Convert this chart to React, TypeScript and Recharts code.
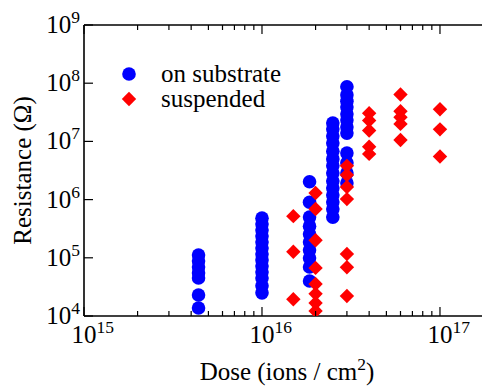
import React from "react";
import { ScatterChart, Scatter, XAxis, YAxis, ReferenceLine, Legend } from "recharts";

// ---- data (dose in ions/cm^2, resistance in ohm) ----
const substrateDoses = [4.4e15, 1e16, 1.85e16, 2.5e16, 3e16];
const substrateRes1 = [1.12e5, 8.8e4, 6.95e4, 5.5e4, 4.5e4, 2.3e4, 1.37e4];
const substrateRes2 = [4.8e5, 3.8e5, 3.0e5, 2.37e5, 1.87e5, 1.47e5, 1.16e5, 9.2e4, 7.2e4, 5.7e4, 4.5e4, 3.3e4, 2.5e4];
const substrateRes3 = [2.03e6, 9e5, 5.0e5, 3.5e5, 2.57e5, 1.87e5, 1.36e5, 9.9e4, 6.95e4, 4e4];
const substrateRes4 = [2.07e7, 1.63e7, 1.24e7, 9.4e6, 6.8e6, 5.0e6, 3.8e6, 2.86e6, 2.09e6, 1.58e6, 1.2e6, 9.1e5, 6.9e5, 5.0e5];
const substrateRes5 = [8.7e7, 6.3e7, 4.9e7, 3.9e7, 2.96e7, 2.33e7, 1.77e7, 1.39e7, 6.3e6, 4.3e6, 2.86e6, 1.93e6];
const substrateRes = [substrateRes1, substrateRes2, substrateRes3, substrateRes4, substrateRes5];

const suspendedDoses = [1.5e16, 2e16, 3e16, 4e16, 6e16, 1e17];
const suspendedRes1 = [5.2e5, 1.27e5, 1.94e4];
const suspendedRes2 = [1.3e6, 6.9e5, 2.0e5, 6.7e4, 3.55e4, 2.4e4, 1.67e4, 1.22e4];
const suspendedRes3 = [3.8e6, 2.65e6, 1.65e6, 1.02e6, 1.16e5, 6.9e4, 2.2e4];
const suspendedRes4 = [3.04e7, 2.29e7, 1.54e7, 8.1e6, 6.1e6];
const suspendedRes5 = [6.4e7, 3.3e7, 2.6e7, 2.0e7, 1.06e7];
const suspendedRes6 = [3.56e7, 1.61e7, 5.5e6];
const suspendedRes = [suspendedRes1, suspendedRes2, suspendedRes3, suspendedRes4, suspendedRes5, suspendedRes6];

const xMajorTicks = [1e15, 1e16, 1e17];
const xMinorMultipliers = [2, 3, 4, 5, 6, 7, 8, 9];
const yTicks = [1e4, 1e5, 1e6, 1e7, 1e8, 1e9];
const xDomain = [1e15, 1.91e17];
const yDomain = [1e4, 1e9];

const seriesNames = ["on substrate", "suspended"];
const xTitle = "Dose (ions / cm";
const yTitle = "Resistance (\u03A9)";

// ---- build tables ----
const buildPoints = (doses: number[], res: number[][]) =>
  doses.flatMap((d, i) => res[i].map((r) => ({ x: d, y: r })));
const substrateData = buildPoints(substrateDoses, substrateRes);
const suspendedData = buildPoints(suspendedDoses, suspendedRes);

const xTicks: number[] = [];
for (const m of xMajorTicks) {
  xTicks.push(m);
  for (const k of xMinorMultipliers) {
    const v = m * k;
    if (v <= xDomain[1]) xTicks.push(v);
  }
}

// ---- layout ----
const W = 482;
const H = 379;
const PL = 76;
const PT = 17;
const PB = 308;
const PR = W;
const FONT = '"Liberation Serif", "Times New Roman", Times, serif';
const FS = 25;
const SUP = 17.5;
const BLUE = "#0000ff";
const RED = "#ff0000";
const textStyle = { fontFamily: FONT, fontSize: FS };

const isMajor = (v: number) => {
  const e = Math.round(Math.log10(v));
  return Math.abs(v - Math.pow(10, e)) / v < 1e-6;
};

const XTick = (props: any) => {
  const { x, payload } = props;
  const v = payload.value;
  const major = isMajor(v);
  const len = major ? 9 : 5;
  const e = Math.round(Math.log10(v));
  return (
    <g>
      <line x1={x} x2={x} y1={PB} y2={PB - len} stroke="#000" strokeWidth={1.2} />
      <line x1={x} x2={x} y1={PT} y2={PT + len} stroke="#000" strokeWidth={1.2} />
      {major && (
        <text x={x - 12.5} y={335} style={textStyle} fill="#000" textAnchor="start">
          <tspan>10</tspan>
          <tspan dy={-10} style={{ fontSize: SUP }}>{e}</tspan>
        </text>
      )}
    </g>
  );
};

const YTick = (props: any) => {
  const { y, payload } = props;
  const e = Math.round(Math.log10(payload.value));
  return (
    <g>
      <line x1={PL} x2={PL + 9} y1={y} y2={y} stroke="#000" strokeWidth={1.2} />
      <text x={PL - 4} y={y + 8} style={textStyle} fill="#000" textAnchor="end">
        <tspan>10</tspan>
        <tspan dy={-10} style={{ fontSize: SUP }}>{e}</tspan>
      </text>
    </g>
  );
};

const Circle = (props: any) => {
  const { cx, cy } = props;
  if (cx == null || cy == null) return null;
  return <circle cx={cx} cy={cy} r={6.8} fill={BLUE} />;
};

const Diamond = (props: any) => {
  const { cx, cy } = props;
  if (cx == null || cy == null) return null;
  const s = 7.2;
  return <polygon points={`${cx},${cy - s} ${cx + s},${cy} ${cx},${cy + s} ${cx - s},${cy}`} fill={RED} />;
};

const LegendContent = () => (
  <svg width={W} height={H} style={{ position: "absolute", left: 0, top: 0, overflow: "visible", pointerEvents: "none" }}>
    <circle cx={121} cy={66} r={6.8} fill={BLUE} />
    <polygon points={`121,${91 - 7.2} ${121 + 7.2},91 121,${91 + 7.2} ${121 - 7.2},91`} fill={RED} />
    <text x={153} y={74} style={textStyle} fill="#000">{seriesNames[0]}</text>
    <text x={153} y={99} style={textStyle} fill="#000">{seriesNames[1]}</text>
    <text x={(PL + PR) / 2} y={372} style={textStyle} fill="#000" textAnchor="middle">
      <tspan>{xTitle}</tspan>
      <tspan dy={-10} style={{ fontSize: SUP }}>2</tspan>
      <tspan dy={10}>)</tspan>
    </text>
    <text
      x={0}
      y={0}
      transform={`translate(23, ${(PT + PB) / 2}) rotate(-90)`}
      style={textStyle}
      fill="#000"
      textAnchor="middle"
    >
      {yTitle}
    </text>
  </svg>
);

export default function App() {
  return (
    <div style={{ width: W, height: H, fontFamily: FONT }}>
      <ScatterChart width={W} height={H} margin={{ top: PT, right: 0, bottom: 0, left: 0 }} style={{ fontFamily: FONT }}>
        <XAxis
          dataKey="x"
          type="number"
          scale="log"
          domain={xDomain}
          allowDataOverflow
          ticks={xTicks}
          interval={0}
          tick={<XTick />}
          tickLine={false}
          axisLine={{ stroke: "#000", strokeWidth: 1.6 }}
          height={H - PB}
        />
        <YAxis
          dataKey="y"
          type="number"
          scale="log"
          domain={yDomain}
          allowDataOverflow
          ticks={yTicks}
          interval={0}
          tick={<YTick />}
          tickLine={false}
          axisLine={{ stroke: "#000", strokeWidth: 1.6 }}
          width={PL}
        />
        <ReferenceLine y={1e9} stroke="#000" strokeWidth={1.6} />
        <Scatter name={seriesNames[0]} data={substrateData} shape={<Circle />} isAnimationActive={false} />
        <Scatter name={seriesNames[1]} data={suspendedData} shape={<Diamond />} isAnimationActive={false} />
        <Legend
          layout="vertical"
          align="center"
          verticalAlign="middle"
          content={<LegendContent />}
          wrapperStyle={{ left: 0, top: 0, width: W, height: H }}
        />
      </ScatterChart>
    </div>
  );
}
